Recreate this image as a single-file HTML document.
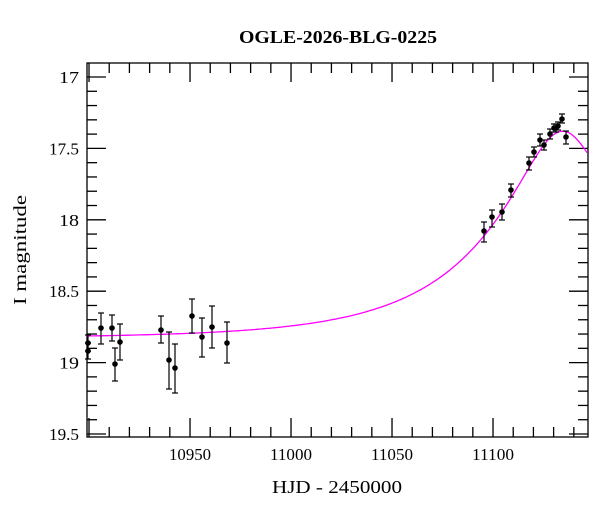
<!DOCTYPE html>
<html><head><meta charset="utf-8"><style>
html,body{margin:0;padding:0;background:#fff;}
svg{display:block;font-family:"Liberation Serif","DejaVu Serif",serif;}
</style></head><body>
<svg id="s" width="600" height="512" xmlns="http://www.w3.org/2000/svg">
<rect width="600" height="512" fill="#fff"/>
<text x="338" y="43" text-anchor="middle" font-size="18" font-weight="bold" textLength="198" lengthAdjust="spacingAndGlyphs">OGLE-2026-BLG-0225</text>
<text x="337" y="493" text-anchor="middle" font-size="18" textLength="130" lengthAdjust="spacingAndGlyphs">HJD - 2450000</text>
<text transform="translate(26,250) rotate(-90)" text-anchor="middle" font-size="18" textLength="110" lengthAdjust="spacingAndGlyphs">I magnitude</text>
<g id="ax" stroke="#000" stroke-width="1.3" fill="none"></g>
<g id="lab" font-size="17"></g>
<path id="curve" fill="none" stroke="#ff00ff" stroke-width="1.3"/>
<g id="pts"></g>
</svg>
<script>
var L=87,R=588,T=63,B=437;
function X(t){return 87+(t-10899)*2.02;}
function Y(m){return 77+(m-17)*142.8;}
var ns="http://www.w3.org/2000/svg",ax=document.getElementById('ax'),lab=document.getElementById('lab');
function ln(g,x1,y1,x2,y2,c,w){var e=document.createElementNS(ns,'line');e.setAttribute('x1',x1);e.setAttribute('y1',y1);e.setAttribute('x2',x2);e.setAttribute('y2',y2);if(c)e.setAttribute('stroke',c);if(w)e.setAttribute('stroke-width',w);g.appendChild(e);}
function tx(x,y,s,a,len){var e=document.createElementNS(ns,'text');e.setAttribute('x',x);e.setAttribute('y',y);e.setAttribute('text-anchor',a);if(len){e.setAttribute('textLength',len);e.setAttribute('lengthAdjust','spacingAndGlyphs');}e.textContent=s;lab.appendChild(e);}
var r=document.createElementNS(ns,'rect');r.setAttribute('x',L);r.setAttribute('y',T);r.setAttribute('width',R-L);r.setAttribute('height',B-T);ax.appendChild(r);
for(var m=17;m<=19.51;m+=0.1){var y=Y(m),maj=Math.abs(m*2-Math.round(m*2))<0.01;var l=maj?19:10;ln(ax,L,y,L+l,y);ln(ax,R,y,R-l,y);
 if(maj){var v=Math.round(m*2)/2;var s=String(v);tx(79,y+6,s,'end',s.length>2?30:20);}}
for(var t=10900;t<=11147;t+=10){var x=X(t),maj=t%50==0,l=maj?19:10;ln(ax,x,B,x,B-l);ln(ax,x,T,x,T+l);if(maj&&t>10900)tx(x,460,String(t),'middle',42);}
var d='';for(var px=L;px<=R;px+=2){var t=10899+(px-87)/2.02;var u0=0.27,tE=76,t0=11134.5;var tau=(t-t0)/tE,u=Math.sqrt(u0*u0+tau*tau);var A=(u*u+2)/(u*Math.sqrt(u*u+4));var mm=18.83-2.5*Math.log10(A);d+=(d?'L':'M')+px+','+Y(mm).toFixed(1);}
document.getElementById('curve').setAttribute('d',d);
var P=[[88,343,335,351],[88,351,343,359],[101,328,313,344],[112,328,315,341],[115,364,348,381],[120,342,324,360],[161,330,316,343],[169,360,332,389],[175,368,344,393],[192,316,299,333],[202,337,318,357],[212,327,306,348],[227,343,322,363],
[484,231,222,242],[492,217,210,227],[502,212,204,220],[511,190,184,197],[529,163,157,170],[534,152,147,157],[540,140,134,146],[544,145,140,150],[550,134,129,139],[554,128,124,132],[556,128,124,132],[558,126,122,130],[562,119,114,123],[566,137,131,144]];
var pg=document.getElementById('pts');
P.forEach(function(p){ln(pg,p[0],p[2],p[0],p[3],'#000',1.2);ln(pg,p[0]-3,p[2],p[0]+3,p[2],'#000',1.2);ln(pg,p[0]-3,p[3],p[0]+3,p[3],'#000',1.2);var c=document.createElementNS(ns,'circle');c.setAttribute('cx',p[0]);c.setAttribute('cy',p[1]);c.setAttribute('r',2.8);pg.appendChild(c);});
</script>
</body></html>
